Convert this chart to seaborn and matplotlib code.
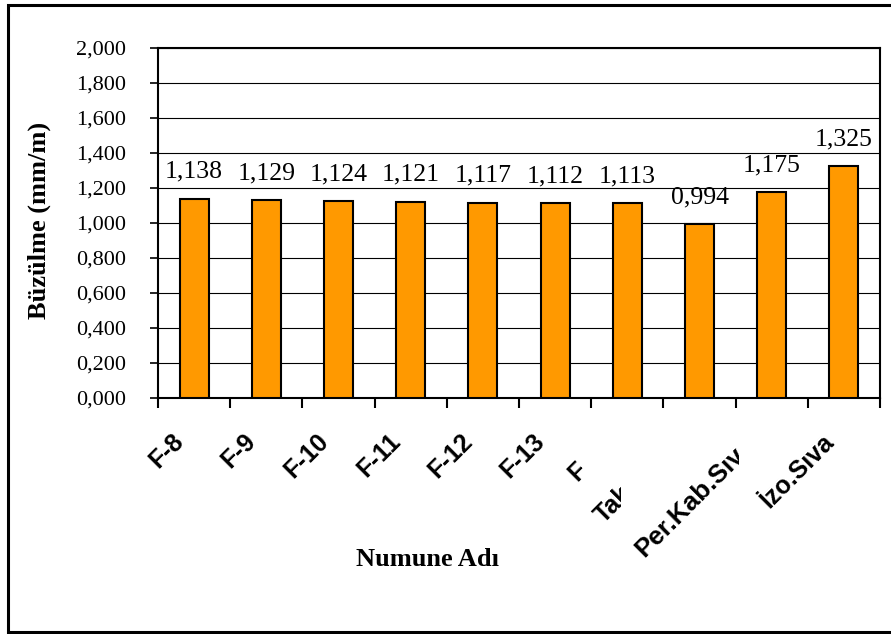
import matplotlib
matplotlib.use("Agg")
import matplotlib.pyplot as plt
import numpy as np
import pandas as pd
import seaborn as sns
from matplotlib.lines import Line2D
from matplotlib.ticker import FuncFormatter
from matplotlib.transforms import Bbox, TransformedBbox

# Sample names and shrinkage values (mm/m)
samples = ["F-8", "F-9", "F-10", "F-11", "F-12", "F-13", "F", "Tak", "Per.Kab.Sıv", "İzo.Sıva"]
shrinkage = [1.138, 1.129, 1.124, 1.121, 1.117, 1.112, 1.113, 0.994, 1.175, 1.325]
y_ticks = [0.0, 0.2, 0.4, 0.6, 0.8, 1.0, 1.2, 1.4, 1.6, 1.8, 2.0]

df = pd.DataFrame({"Numune": samples, "Buzulme": shrinkage})

W, H = 891, 634
SERIF = "Liberation Serif"
SANS = "Liberation Sans"


def tr_num(v, _pos=None):
    return f"{v:.3f}".replace(".", ",")


fig = plt.figure(figsize=(W / 100, H / 100), dpi=100)
fig.patch.set_facecolor("white")
ax = fig.add_axes([158 / W, 1 - 398 / H, 722 / W, 350 / H])

sns.barplot(data=df, x="Numune", y="Buzulme", color="#FF9900", saturation=1,
            edgecolor="black", linewidth=1.5, width=0.4, ax=ax, zorder=3)

ax.set_xlim(-0.5, len(samples) - 0.5)
ax.set_ylim(0, 2.0)
ax.set_xlabel("")
ax.set_ylabel("")
ax.set_axisbelow(True)
ax.yaxis.grid(True, color="black", linewidth=0.8)
ax.xaxis.grid(False)

for sp in ax.spines.values():
    sp.set_visible(True)
    sp.set_color("black")
    sp.set_linewidth(1.5)

# y axis: comma decimal labels
ax.set_yticks(y_ticks)
ax.yaxis.set_major_formatter(FuncFormatter(tr_num))
ax.tick_params(axis="y", direction="out", length=6, width=1.2, pad=17,
               labelsize=16, colors="black")
for lbl in ax.get_yticklabels():
    lbl.set_fontfamily(SERIF)

# x axis: tick marks between categories, labels drawn separately
ax.set_xticks(np.arange(-0.5, len(samples), 1.0))
ax.set_xticklabels([])
ax.tick_params(axis="x", direction="out", length=7, width=1.5)

# value labels above bars
for i, v in enumerate(shrinkage):
    ax.annotate(tr_num(v), xy=(i, v), xytext=(0, 21), textcoords="offset pixels",
                ha="center", va="baseline", fontsize=18.5, family=SERIF,
                annotation_clip=False)

# rotated category labels (offsets in pixels, optional right clip edge)
label_style = {
    "F": dict(ha="right", off=(-44, -68), clip=None, size=18),
    "Tak": dict(ha="left", off=(-101, -121), clip=621, size=18),
    "Per.Kab.Sıv": dict(ha="left", off=(-132, -155), clip=739, size=18.8),
}
default_style = dict(ha="right", off=(-14, -40), clip=None, size=18)

for i, name in enumerate(samples):
    st = label_style.get(name, default_style)
    t = ax.annotate(name, xy=(i, 0), xytext=st["off"], textcoords="offset pixels",
                    ha=st["ha"], va="center", rotation=45, rotation_mode="anchor",
                    fontsize=st["size"], fontweight="bold", family=SANS,
                    annotation_clip=False)
    if st["clip"] is not None:
        box = TransformedBbox(Bbox([[0, 0], [st["clip"] / W, 1]]), fig.transFigure)
        t.set_clip_box(box)
        t.set_clip_on(True)

# axis titles
fig.text(427 / W, 1 - 560 / H, "Numune Adı", ha="center", va="center",
         fontsize=19, fontweight="bold", family=SERIF)
fig.text(39 / W, 1 - 220 / H, "Büzülme (mm/m)", ha="center", va="center",
         rotation=90, fontsize=19, fontweight="bold", family=SERIF)

# chart frame
fx = [1.0, 7.5 / W, 7.5 / W, 1.0]
fy = [1 - 632 / H, 1 - 632 / H, 1 - 4.5 / H, 1 - 4.5 / H]
fig.add_artist(Line2D(fx, fy, color="black", linewidth=2.2,
                      solid_joinstyle="miter", transform=fig.transFigure))

fig.savefig("out.png", dpi=100)
